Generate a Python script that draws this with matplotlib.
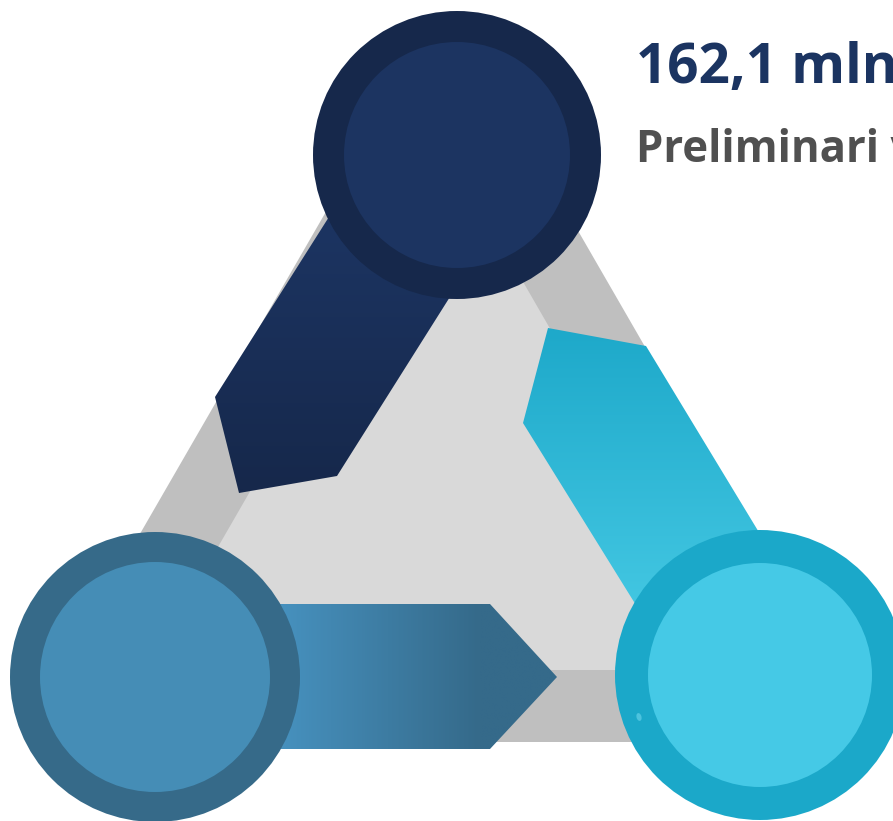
import numpy as np
import matplotlib
matplotlib.use("Agg")
import matplotlib.pyplot as plt
from matplotlib.patches import Polygon, Circle, Ellipse
from matplotlib.colors import LinearSegmentedColormap

# ---- content ----
headline = "162,1 mln Eur"
subline = "Preliminari vertinimas"

# circle nodes: centers (x, y), outer radius, inner radius, colours
node_names = ["top", "left", "right"]
node_x = [457, 155, 760]
node_y = [155, 677, 675]
node_r_outer = [144, 145, 145]
node_r_inner = [113, 115, 112]
node_outer_col = ["#16284b", "#366a89", "#1ba8c9"]
node_inner_col = ["#1c3461", "#458db6", "#45c9e6"]

W, H = 893, 821
fig = plt.figure(figsize=(W / 100, H / 100), dpi=100)
ax = fig.add_axes([0, 0, 1, 1])
ax.set_xlim(0, W)
ax.set_ylim(H, 0)
ax.axis("off")

# grey triangle background (corners trimmed; they sit under the circles)
outer_tri = [(426.5, 37.6), (466.5, 37.6), (853, 707), (833, 742), (60, 742), (40, 707)]
inner_tri = [(447, 150), (147, 670), (747, 670)]
ax.add_patch(Polygon(outer_tri, closed=True, fc="#bfbfbf", ec="none", zorder=1))
ax.add_patch(Polygon(inner_tri, closed=True, fc="#d9d9d9", ec="none", zorder=2))


def gradient_poly(verts, c0, c1, direction, span, z):
    poly = Polygon(verts, closed=True, fc="none", ec="none", zorder=z)
    ax.add_patch(poly)
    cmap = LinearSegmentedColormap.from_list("g", [c0, c1])
    xs = [v[0] for v in verts]
    ys = [v[1] for v in verts]
    x0, x1 = min(xs), max(xs)
    y0, y1 = min(ys), max(ys)
    n = 256
    if direction == "v":
        yy = np.linspace(y0, y1, n)
        t = np.clip((yy - span[0]) / (span[1] - span[0]), 0, 1)
        img = t[:, None] * np.ones((1, 2))
    else:
        xx = np.linspace(x0, x1, n)
        t = np.clip((xx - span[0]) / (span[1] - span[0]), 0, 1)
        img = np.ones((2, 1)) * t[None, :]
    im = ax.imshow(img, cmap=cmap, vmin=0, vmax=1, extent=(x0, x1, y1, y0),
                   origin="upper", aspect="auto", zorder=z, interpolation="bilinear")
    im.set_clip_path(poly)


# navy arrow (top -> bottom-left)
navy_arrow = [(390, 120), (327, 220), (215, 397), (239, 493), (337, 476), (448, 300), (490, 233)]
gradient_poly(navy_arrow, "#1c3461", "#16284b", "v", (230, 490), 3)

# cyan arrow (top -> bottom-right)
cyan_arrow = [(548, 328), (646, 346), (800, 600), (675, 668), (523, 423)]
gradient_poly(cyan_arrow, "#1ea9ca", "#44c8e3", "v", (330, 620), 3)

# bottom arrow (left -> right)
blue_arrow = [(200, 604), (490, 604), (557, 677), (490, 749), (200, 749)]
gradient_poly(blue_arrow, "#4690bd", "#356a8a", "h", (285, 480), 3)

# circles
for i in range(len(node_names)):
    ax.add_patch(Circle((node_x[i], node_y[i]), node_r_outer[i], fc=node_outer_col[i], ec="none", zorder=5))
    ax.add_patch(Circle((node_x[i], node_y[i]), node_r_inner[i], fc=node_inner_col[i], ec="none", zorder=6))

# small light speck on the right ring
ax.add_patch(Ellipse((639, 717), 5, 8, angle=-15, fc="#4cc3de", ec="none", zorder=7))

# texts
ax.text(636, 83, headline, fontsize=39.5, fontweight="bold", color="#1b3461",
        family=["Open Sans", "DejaVu Sans"], ha="left", va="baseline", zorder=7)
ax.text(636, 162, subline, fontsize=31.5, fontweight="bold", color="#505050",
        family=["Open Sans", "DejaVu Sans"], ha="left", va="baseline", zorder=7)

fig.savefig("out.png", dpi=100)
